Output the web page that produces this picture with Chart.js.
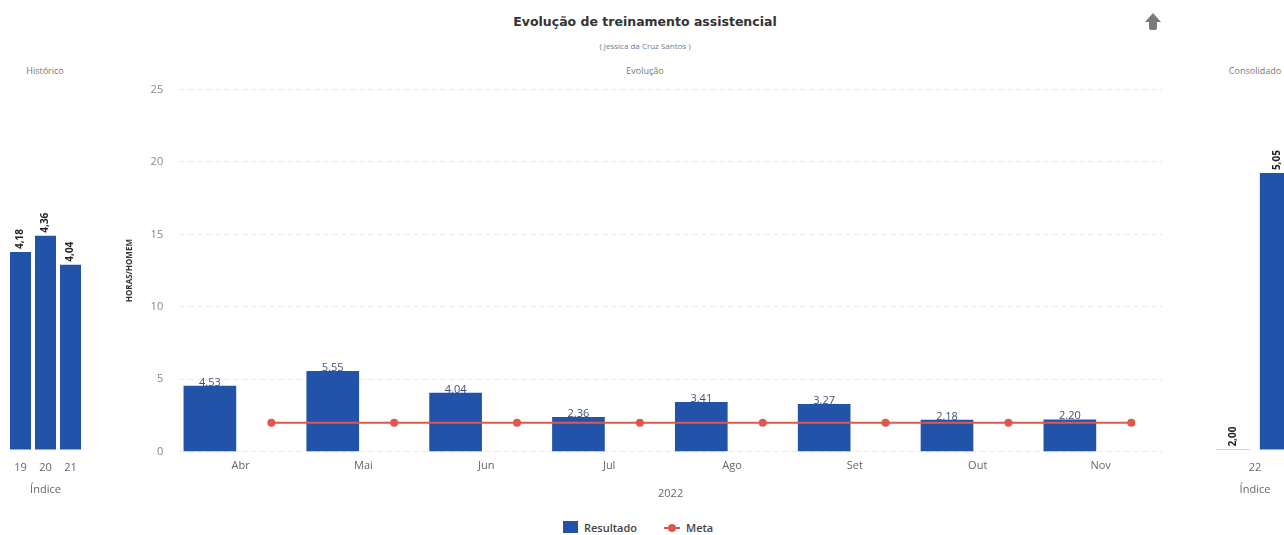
<!DOCTYPE html>
<html>
<head>
<meta charset="utf-8">
<script src="https://cdn.jsdelivr.net/npm/chart.js@4.4.1/dist/chart.umd.min.js"></script>
<style>
  html, body { margin:0; padding:0; background:#fff; overflow:hidden; }
  body { width:1284px; height:535px; position:relative; font-family:"Open Sans", sans-serif; }
  .txt { position:absolute; white-space:nowrap; transform:translateX(-50%); }
  .box { position:absolute; }
</style>
</head>
<body>
<div class="txt" style="left:645px;top:14px;font-family:'DejaVu Sans',sans-serif;font-size:12.5px;font-weight:bold;color:#333;">Evolução de treinamento assistencial</div>
<div class="txt" style="left:645px;top:40px;font-size:8px;color:#6b7a99;">( Jessica da Cruz Santos )</div>
<div class="txt" style="left:645px;top:64px;font-size:9px;color:#777;">Evolução</div>
<div class="txt" style="left:45px;top:64px;font-size:9px;color:#777;">Histórico</div>
<div class="txt" style="left:1255px;top:64px;font-size:9px;color:#777;">Consolidado</div>
<!-- seta -->
<div class="box" style="left:1145px;top:13px;width:0;height:0;border-left:8px solid transparent;border-right:8px solid transparent;border-bottom:9px solid #7a7a7a;"></div>
<div class="box" style="left:1149px;top:21px;width:8px;height:9px;background:#7a7a7a;border-radius:0 0 2px 2px;"></div>

<div class="box" style="left:0px;top:81px;width:90px;height:415px;"><canvas id="historico"></canvas></div>
<div class="box" style="left:110px;top:67px;width:1070px;height:433px;"><canvas id="evolucao"></canvas></div>
<div class="box" style="left:1200px;top:81px;width:110px;height:415px;"><canvas id="consolidado"></canvas></div>

<!-- legenda -->
<div class="box" style="left:563px;top:521px;width:15px;height:12px;background:#2353a8;"></div>
<div class="box" style="left:584px;top:520px;font-size:11px;font-weight:600;color:#444;">Resultado</div>
<div class="box" style="left:664px;top:527px;width:16px;height:2px;background:#e0574f;"></div>
<div class="box" style="left:668px;top:524px;width:8px;height:8px;border-radius:50%;background:#e0574f;"></div>
<div class="box" style="left:686px;top:520px;font-size:11px;font-weight:600;color:#444;">Meta</div>

<script>
// dados
var meses = ["Abr","Mai","Jun","Jul","Ago","Set","Out","Nov"];
var resultado = [4.53, 5.55, 4.04, 2.36, 3.41, 3.27, 2.18, 2.20];
var meta = [2, 2, 2, 2, 2, 2, 2, 2];
var anos = ["19","20","21"];
var historico = [4.18, 4.36, 4.04];
var consolidadoAno = ["22"];
var consolidadoMeta = [2.00];
var consolidadoRes = [5.05];
var ticksY = [0, 5, 10, 15, 20, 25];

var azul = "#2353a8";
var vermelho = "#e0574f";

// rotulos de valor em cima das barras
var rotulos = {
  id: "rotulos",
  afterDatasetsDraw(chart, args, opts) {
    if (!opts || !opts.show) return;
    var ctx = chart.ctx;
    chart.data.datasets.forEach(function(ds, di) {
      var m = chart.getDatasetMeta(di);
      if (m.type !== "bar" || !ds.showLabel) return;
      m.data.forEach(function(el, i) {
        var v = ds.valores ? ds.valores[i] : ds.data[i];
        if (v == null) return;
        var txt = opts.virgula ? v.toFixed(2).replace(".", ",") : v.toFixed(2);
        ctx.save();
        ctx.font = opts.font;
        ctx.fillStyle = opts.color;
        if (opts.rotate) {
          ctx.translate(el.x, el.y - 3);
          ctx.rotate(-Math.PI / 2);
          ctx.textAlign = "left";
          ctx.textBaseline = "middle";
          ctx.fillText(txt, 0, 0);
        } else {
          ctx.textAlign = "center";
          ctx.textBaseline = "bottom";
          ctx.fillText(txt, el.x, el.y + 2);
        }
        ctx.restore();
      });
    });
  }
};

var fonte = "'Open Sans', sans-serif";

function eixoIndice() {
  return {
    grid: { display: false },
    border: { display: false },
    ticks: { color: "#666", font: { family: fonte, size: 11 }, padding: 4 },
    title: { display: true, text: "Índice", color: "#666", font: { family: fonte, size: 11 }, padding: { top: 4, bottom: 0 } }
  };
}

new Chart(document.getElementById("historico"), {
  type: "bar",
  data: {
    labels: anos,
    datasets: [{ label: "Histórico", data: historico, backgroundColor: azul, showLabel: true,
      categoryPercentage: 1, barPercentage: 0.84 }]
  },
  options: {
    responsive: true, maintainAspectRatio: false, animation: false,
    layout: { padding: { left: 8, right: 7, top: 6, bottom: 0 } },
    plugins: { legend: { display: false }, tooltip: { enabled: false },
      rotulos: { show: true, rotate: true, virgula: true, font: "bold 10px " + fonte, color: "#222" } },
    scales: {
      x: eixoIndice(),
      y: { display: false, min: 2, max: 6 }
    }
  },
  plugins: [rotulos]
});

new Chart(document.getElementById("consolidado"), {
  type: "bar",
  data: {
    labels: consolidadoAno,
    datasets: [
      { label: "Meta", data: consolidadoMeta, backgroundColor: azul, showLabel: true, categoryPercentage: 0.8, barPercentage: 0.78 },
      { label: "Resultado", data: consolidadoRes, backgroundColor: azul, showLabel: true, categoryPercentage: 0.8, barPercentage: 0.78 }
    ]
  },
  options: {
    responsive: true, maintainAspectRatio: false, animation: false,
    layout: { padding: { left: 0, right: 0, top: 6, bottom: 0 } },
    plugins: { legend: { display: false }, tooltip: { enabled: false },
      rotulos: { show: true, rotate: true, virgula: true, font: "bold 10px " + fonte, color: "#222" } },
    scales: {
      x: eixoIndice(),
      y: { display: false, min: 2, max: 6 }
    }
  },
  plugins: [rotulos]
});

// barra na metade esquerda do mes, meta na metade direita
var resPontos = resultado.map(function(v, i) { return { x: i - 0.25, y: v }; });
var metaPontos = meta.map(function(v, i) { return { x: i + 0.25, y: v }; });

new Chart(document.getElementById("evolucao"), {
  type: "bar",
  data: {
    labels: meses,
    datasets: [
      { type: "bar", label: "Resultado", data: resPontos, valores: resultado, xAxisID: "xm", backgroundColor: azul, showLabel: true,
        barThickness: 52, order: 2 },
      { type: "line", label: "Meta", data: metaPontos, xAxisID: "xm", borderColor: vermelho, backgroundColor: vermelho,
        borderWidth: 2, pointRadius: 4, pointHoverRadius: 4, pointBorderWidth: 0, order: 1 }
    ]
  },
  options: {
    responsive: true, maintainAspectRatio: false, animation: false,
    layout: { padding: { left: 0, right: 18, top: 9, bottom: 0 } },
    plugins: { legend: { display: false }, tooltip: { enabled: false },
      rotulos: { show: true, rotate: false, virgula: false, font: "11px " + fonte, color: "#3d4f7c" } },
    scales: {
      x: {
        grid: { display: false }, border: { display: false }, offset: true,
        ticks: { color: "#666", font: { family: fonte, size: 11 }, padding: 0 },
        title: { display: true, text: "2022", color: "#666", font: { family: fonte, size: 11 }, padding: { top: 14, bottom: 0 } }
      },
      xm: { type: "linear", display: false, offset: false, grid: { offset: false }, min: -0.5, max: 7.5 },
      y: {
        min: 0, max: 25,
        afterBuildTicks: function(ax) { ax.ticks = ticksY.map(function(v) { return { value: v }; }); },
        grid: { color: "#e9e9e9", drawTicks: false },
        border: { display: false, dash: [6, 3] },
        ticks: { color: "#888", font: { family: fonte, size: 11 }, padding: 16 },
        title: { display: true, text: "HORAS/HOMEM", color: "#333", font: { family: fonte, size: 8, weight: "bold" }, padding: { top: 15, bottom: 0 } }
      }
    }
  },
  plugins: [rotulos]
});
</script>
</body>
</html>
